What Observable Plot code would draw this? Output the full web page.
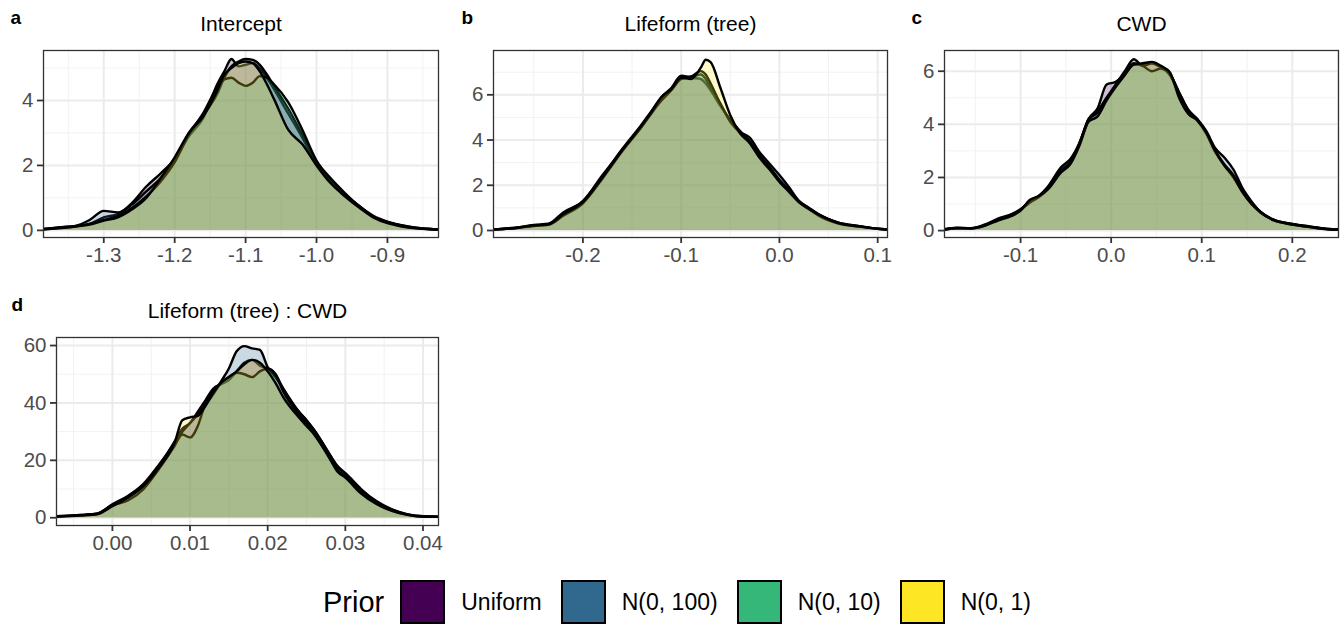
<!DOCTYPE html>
<html>
<head>
<meta charset="utf-8">
<script src="https://cdn.jsdelivr.net/npm/d3@7"></script>
<script src="https://cdn.jsdelivr.net/npm/@observablehq/plot@0.6"></script>
<style>
  html, body { margin: 0; padding: 0; background: white; }
  #root { position: relative; width: 1344px; height: 625px; font-family: "Liberation Sans", Arial, Helvetica, sans-serif; overflow: hidden; }
  .panel { position: absolute; }
  #legend { position: absolute; left: 323px; top: 580px; height: 44px; display: flex; align-items: center; }
  #legend .title { font-size: 29px; color: black; margin-right: 16px; line-height: 44px; }
  #legend .key { width: 41px; height: 40px; border: 2.5px solid black; margin-right: 16px; }
  #legend .lab { font-size: 23px; color: black; margin-right: 19px; line-height: 44px; }
</style>
</head>
<body>
<div id="root"></div>
<script>
// ---------- data ----------
const priorNames = ["Uniform", "N(0, 100)", "N(0, 10)", "N(0, 1)"];
const priorColors = ["#440154", "#31688E", "#35B779", "#FDE725"];
const panelTitles = ["Intercept", "Lifeform (tree)", "CWD", "Lifeform (tree) : CWD"];
const panelTags = ["a", "b", "c", "d"];

// Panel a: Intercept
const aX = [-1.385, -1.36, -1.34, -1.32, -1.30, -1.28, -1.26, -1.24, -1.22, -1.20, -1.18, -1.16, -1.14, -1.13, -1.12, -1.11, -1.10, -1.09, -1.08, -1.07, -1.06, -1.04, -1.02, -1.00, -0.98, -0.96, -0.94, -0.92, -0.90, -0.88, -0.86, -0.84, -0.828];
const aUniform = [0.04, 0.09, 0.13, 0.2, 0.4, 0.5, 0.85, 1.35, 1.75, 2.2, 2.9, 3.45, 4.5, 4.9, 5.28, 5.05, 5.1, 5.15, 5.0, 4.7, 4.35, 3.6, 2.85, 2.05, 1.5, 1.1, 0.75, 0.45, 0.27, 0.16, 0.08, 0.04, 0.03];
const aN100 = [0.04, 0.1, 0.14, 0.32, 0.6, 0.55, 0.8, 1.2, 1.6, 2.15, 3.0, 3.55, 4.2, 4.7, 5.05, 5.2, 5.28, 5.25, 5.1, 4.8, 4.45, 3.75, 2.95, 2.1, 1.5, 1.1, 0.75, 0.42, 0.25, 0.15, 0.08, 0.04, 0.03];
const aN10 = [0.03, 0.08, 0.12, 0.2, 0.32, 0.45, 0.7, 1.05, 1.5, 2.1, 2.95, 3.6, 4.4, 4.65, 4.7, 4.55, 4.45, 4.55, 4.75, 4.7, 4.5, 3.95, 3.1, 2.15, 1.6, 1.15, 0.75, 0.42, 0.25, 0.14, 0.07, 0.04, 0.03];
const aN1 = [0.03, 0.07, 0.12, 0.18, 0.3, 0.4, 0.65, 1.0, 1.6, 2.25, 3.0, 3.5, 4.3, 4.8, 5.0, 5.15, 5.2, 5.15, 4.9, 4.5, 4.05, 3.1, 2.65, 2.0, 1.45, 1.05, 0.7, 0.4, 0.22, 0.12, 0.06, 0.03, 0.02];

// Panel b: Lifeform (tree)
const bX = [-0.291, -0.27, -0.25, -0.235, -0.22, -0.20, -0.18, -0.16, -0.14, -0.13, -0.12, -0.11, -0.10, -0.09, -0.08, -0.075, -0.07, -0.06, -0.05, -0.04, -0.03, -0.02, -0.01, 0.00, 0.01, 0.02, 0.03, 0.04, 0.06, 0.08, 0.10, 0.11];
const bUniform = [0.05, 0.1, 0.25, 0.3, 0.8, 1.3, 2.4, 3.6, 4.7, 5.3, 5.9, 6.3, 6.85, 6.75, 6.7, 6.5, 6.2, 5.5, 4.9, 4.4, 3.95, 3.3, 2.8, 2.25, 1.8, 1.3, 1.0, 0.7, 0.35, 0.2, 0.08, 0.05];
const bN100 = [0.05, 0.12, 0.22, 0.28, 0.75, 1.3, 2.45, 3.55, 4.6, 5.2, 5.85, 6.25, 6.8, 6.8, 6.9, 6.7, 6.3, 5.6, 4.8, 4.35, 4.1, 3.45, 2.95, 2.45, 1.9, 1.3, 1.0, 0.72, 0.35, 0.2, 0.08, 0.05];
const bN10 = [0.04, 0.1, 0.2, 0.25, 0.65, 1.2, 2.3, 3.5, 4.6, 5.2, 5.75, 6.2, 6.7, 6.8, 7.05, 6.9, 6.5, 5.6, 4.85, 4.3, 3.9, 3.3, 2.8, 2.2, 1.75, 1.25, 0.95, 0.65, 0.3, 0.18, 0.07, 0.04];
const bN1 = [0.05, 0.1, 0.22, 0.27, 0.72, 1.25, 2.35, 3.55, 4.65, 5.25, 5.9, 6.25, 6.75, 6.7, 7.2, 7.55, 7.45, 6.3, 5.1, 4.3, 3.85, 3.2, 2.7, 2.15, 1.7, 1.25, 0.95, 0.7, 0.33, 0.18, 0.07, 0.04];

// Panel c: CWD
const cX = [-0.184, -0.17, -0.155, -0.14, -0.125, -0.11, -0.10, -0.09, -0.08, -0.07, -0.055, -0.045, -0.035, -0.025, -0.015, -0.005, 0.005, 0.015, 0.025, 0.035, 0.045, 0.055, 0.065, 0.075, 0.085, 0.095, 0.105, 0.115, 0.125, 0.135, 0.145, 0.155, 0.165, 0.18, 0.20, 0.22, 0.24, 0.251];
const cUniform = [0.05, 0.1, 0.08, 0.2, 0.42, 0.6, 0.8, 1.1, 1.3, 1.6, 2.3, 2.6, 3.3, 4.2, 4.6, 5.5, 5.6, 5.9, 6.25, 6.25, 6.3, 6.15, 5.9, 5.2, 4.55, 4.2, 3.7, 3.0, 2.5, 2.1, 1.5, 1.05, 0.7, 0.4, 0.25, 0.15, 0.06, 0.04];
const cN100 = [0.05, 0.11, 0.09, 0.22, 0.45, 0.62, 0.8, 1.1, 1.3, 1.65, 2.4, 2.7, 3.3, 4.2, 4.5, 5.0, 5.5, 6.0, 6.45, 6.2, 6.3, 6.15, 5.9, 5.2, 4.55, 4.2, 3.75, 3.1, 2.75, 2.3, 1.6, 1.1, 0.7, 0.4, 0.25, 0.15, 0.06, 0.04];
const cN10 = [0.04, 0.09, 0.08, 0.18, 0.4, 0.58, 0.78, 1.05, 1.25, 1.55, 2.25, 2.55, 3.25, 4.15, 4.45, 5.0, 5.45, 5.9, 6.3, 6.2, 6.0, 6.1, 5.85, 5.15, 4.5, 4.15, 3.65, 2.95, 2.45, 2.0, 1.45, 1.0, 0.68, 0.38, 0.23, 0.13, 0.05, 0.03];
const cN1 = [0.04, 0.09, 0.08, 0.18, 0.38, 0.55, 0.75, 1.15, 1.3, 1.55, 2.2, 2.5, 3.2, 4.1, 4.3, 4.9, 5.4, 5.85, 6.25, 6.3, 6.35, 6.2, 5.95, 5.0, 4.4, 4.15, 3.7, 3.0, 2.45, 2.05, 1.45, 1.0, 0.68, 0.38, 0.23, 0.13, 0.05, 0.03];

// Panel d: Lifeform (tree) : CWD
const dX = [-0.0072, -0.004, -0.002, 0.000, 0.002, 0.004, 0.006, 0.008, 0.009, 0.010, 0.011, 0.012, 0.013, 0.014, 0.015, 0.016, 0.017, 0.018, 0.019, 0.020, 0.021, 0.022, 0.024, 0.025, 0.026, 0.028, 0.029, 0.030, 0.032, 0.034, 0.036, 0.038, 0.040, 0.042];
const dUniform = [0.5, 1.0, 1.4, 4.5, 7.5, 11.5, 18, 26.5, 31, 33, 37, 41, 45, 46.5, 48, 51, 54, 55, 53, 52, 50, 45, 37, 34, 30.5, 22, 18, 15.5, 10, 5.8, 2.9, 1.2, 0.5, 0.4];
const dN100 = [0.5, 1.0, 1.4, 4.7, 7.6, 11.8, 18.5, 26, 30, 33, 36, 39.5, 43, 47.5, 52, 58, 59.8, 59, 58.5, 52.5, 49, 45, 37, 34, 30.5, 22, 17.5, 15.5, 10, 5.5, 2.8, 1.2, 0.5, 0.4];
const dN10 = [0.4, 0.9, 1.3, 4.3, 6.0, 10.0, 17.0, 25, 29, 28, 32, 40, 44.5, 47, 49, 50.5, 50, 49, 51, 52, 50, 44, 36, 33, 29, 21, 16.5, 14.5, 9, 5, 2.5, 1.0, 0.4, 0.3];
const dN1 = [0.4, 0.8, 1.2, 4.0, 7.0, 11.0, 17.5, 26, 34, 35, 35.5, 39, 43.5, 47, 49, 51, 53.5, 55, 54, 51, 47, 42, 35, 32, 29, 20.5, 16, 14, 8.5, 4.8, 2.4, 1.0, 0.4, 0.3];

// tick values
const aTicksX = [-1.3, -1.2, -1.1, -1.0, -0.9];
const aTicksY = [0, 2, 4];
const bTicksX = [-0.2, -0.1, 0.0, 0.1];
const bTicksY = [0, 2, 4, 6];
const cTicksX = [-0.1, 0.0, 0.1, 0.2];
const cTicksY = [0, 2, 4, 6];
const dTicksX = [0.00, 0.01, 0.02, 0.03, 0.04];
const dTicksY = [0, 20, 40, 60];

// ---------- build ----------
const rows = (xs, ys) => xs.map((x, i) => ({x, y: ys[i]}));
const midpoints = (ticks) => {
  const step = ticks[1] - ticks[0];
  const out = [];
  for (let i = -1; i < ticks.length + 1; i++) out.push(ticks[0] + (i + 0.5) * step);
  return out;
};
const FONT = "'Liberation Sans', Arial, Helvetica, sans-serif";

function makePanel(cfg) {
  const series = cfg.series;
  const fmtX = d => d.toFixed(cfg.xDigits);
  const marks = [
    Plot.ruleX(midpoints(cfg.ticksX).filter(v => v > cfg.xd[0] && v < cfg.xd[1]), {stroke: "#F2F2F2", strokeWidth: 1}),
    Plot.ruleY(midpoints(cfg.ticksY).filter(v => v > cfg.yd[0] && v < cfg.yd[1]), {stroke: "#F2F2F2", strokeWidth: 1}),
    Plot.ruleX(cfg.ticksX, {stroke: "#EBEBEB", strokeWidth: 2}),
    Plot.ruleY(cfg.ticksY, {stroke: "#EBEBEB", strokeWidth: 2})
  ];
  series.forEach((ys, k) => {
    const data = rows(cfg.xs, ys);
    marks.push(Plot.areaY(data, {x: "x", y: "y", fill: priorColors[k], fillOpacity: 0.25, curve: "monotone-x", clip: true}));
    marks.push(Plot.lineY(data, {x: "x", y: "y", stroke: "black", strokeWidth: 2.4, curve: "monotone-x", clip: true}));
  });
  marks.push(Plot.frame({stroke: "#333333", strokeWidth: 1.3}));
  // tick marks (labels drawn separately below)
  marks.push(Plot.axisX(cfg.ticksX, {label: null, tickSize: 6, stroke: "#333333", strokeWidth: 1.8, tickFormat: () => ""}));
  marks.push(Plot.axisY(cfg.ticksY, {label: null, tickSize: 6, stroke: "#333333", strokeWidth: 1.8, tickFormat: () => ""}));
  // tick labels
  marks.push(Plot.text(cfg.ticksX, {x: d => d, frameAnchor: "bottom", lineAnchor: "top", dy: 10, text: fmtX, fontSize: 20.5, fill: "#4D4D4D"}));
  marks.push(Plot.text(cfg.ticksY, {y: d => d, frameAnchor: "left", textAnchor: "end", dx: -10, text: d => String(d), fontSize: 20.5, fill: "#4D4D4D"}));
  // title and tag
  marks.push(Plot.text([cfg.title], {frameAnchor: "top", dy: -20, lineAnchor: "bottom", fontSize: 21, fill: "black", text: d => d}));
  marks.push(Plot.text([cfg.tag], {frameAnchor: "top-left", textAnchor: "start", dx: cfg.tagDx, dy: -27, lineAnchor: "bottom", fontSize: 19, fontWeight: "bold", fill: "black", text: d => d}));

  const svg = Plot.plot({
    width: cfg.width, height: cfg.height,
    marginLeft: cfg.ml, marginRight: cfg.mr, marginTop: cfg.mt, marginBottom: cfg.mb,
    x: {domain: cfg.xd, label: null},
    y: {domain: cfg.yd, label: null},
    style: {fontFamily: FONT, fontSize: "20px", background: "white", overflow: "visible"},
    marks
  });
  svg.classList.add("panel");
  svg.style.left = cfg.left + "px";
  svg.style.top = cfg.top + "px";
  return svg;
}

const root = document.getElementById("root");
const panels = [
  {left: 0, top: 0, width: 448, height: 275, ml: 43, mr: 10, mt: 50, mb: 38,
   xs: aX, series: [aUniform, aN100, aN10, aN1], xd: [-1.385, -0.828], yd: [-0.22, 5.54],
   ticksX: aTicksX, ticksY: aTicksY, xDigits: 1, title: panelTitles[0], tag: panelTags[0], tagDx: -33},
  {left: 450, top: 0, width: 445, height: 275, ml: 43, mr: 8, mt: 50, mb: 38,
   xs: bX, series: [bUniform, bN100, bN10, bN1], xd: [-0.291, 0.110], yd: [-0.31, 7.96],
   ticksX: bTicksX, ticksY: bTicksY, xDigits: 1, title: panelTitles[1], tag: panelTags[1], tagDx: -32},
  {left: 900, top: 0, width: 444, height: 275, ml: 44, mr: 6, mt: 50, mb: 38,
   xs: cX, series: [cUniform, cN100, cN10, cN1], xd: [-0.184, 0.251], yd: [-0.26, 6.78],
   ticksX: cTicksX, ticksY: cTicksY, xDigits: 1, title: panelTitles[2], tag: panelTags[2], tagDx: -33},
  {left: 0, top: 287, width: 448, height: 275, ml: 56, mr: 10, mt: 50, mb: 37,
   xs: dX, series: [dUniform, dN100, dN10, dN1], xd: [-0.0072, 0.042], yd: [-2.7, 62.8],
   ticksX: dTicksX, ticksY: dTicksY, xDigits: 2, title: panelTitles[3], tag: panelTags[3], tagDx: -45}
];
panels.forEach(p => root.appendChild(makePanel(p)));

// legend
const legend = document.createElement("div");
legend.id = "legend";
const t = document.createElement("span");
t.className = "title"; t.textContent = "Prior";
legend.appendChild(t);
priorNames.forEach((name, i) => {
  const k = document.createElement("span");
  k.className = "key"; k.style.background = priorColors[i];
  legend.appendChild(k);
  const l = document.createElement("span");
  l.className = "lab"; l.textContent = name;
  legend.appendChild(l);
});
root.appendChild(legend);
</script>
</body>
</html>
